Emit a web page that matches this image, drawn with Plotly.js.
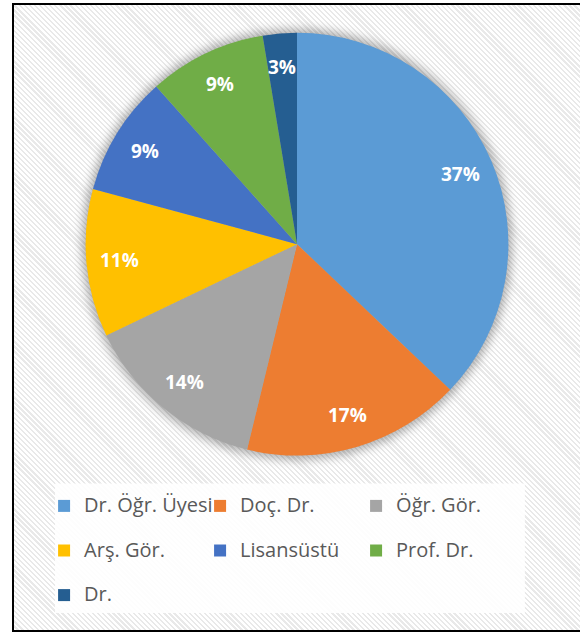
<!DOCTYPE html>
<html>
<head>
<meta charset="utf-8">
<script src="https://cdn.plot.ly/plotly-3.0.1.min.js"></script>
<style>
  html, body { margin: 0; padding: 0; background: #ffffff; width: 580px; height: 633px; overflow: hidden; }
  #frame {
    position: absolute; left: 12px; top: 3px; width: 620px; height: 625px;
    border: 2px solid #000;
    background: repeating-linear-gradient(45deg, #ffffff 0px, #ffffff 2px, #e9e9e9 2px, #e9e9e9 3.6px);
  }
  #chart { position: absolute; left: 0; top: 0; width: 580px; height: 633px; }
</style>
</head>
<body>
<div id="frame"></div>
<div id="chart"></div>
<script>
// Categories (clockwise from 12 o'clock) and their shares (percent)
const categories = ["Dr. Öğr. Üyesi", "Doç. Dr.", "Öğr. Gör.", "Arş. Gör.", "Lisansüstü", "Prof. Dr.", "Dr."];
const shares = [37.1, 16.7, 14.1, 11.3, 9.2, 9.0, 2.6];
const colors = ["#5B9BD5", "#ED7D31", "#A5A5A5", "#FFC000", "#4472C4", "#70AD47", "#255E91"];

const W = 580, H = 633;
const pieDomain = { x: [0.1466, 0.8776], y: [0.278, 0.948] };
const labelRadius = 0.84; // fraction of radius where Excel-style data labels sit

// legend labels: larger visible text plus an empty second line to give taller rows
const legendLabels = categories.map(c => '<span style="font-size:20px">' + c + '</span><br> ');

const trace = {
  type: 'pie',
  labels: legendLabels,
  values: shares,
  sort: false,
  direction: 'clockwise',
  rotation: 0,
  marker: { colors: colors, line: { width: 0 } },
  textposition: 'none',
  hoverinfo: 'none',
  domain: pieDomain
};

// data labels derived from the values (mid-angle of each slice)
const total = shares.reduce((a, b) => a + b, 0);
const cxP = (pieDomain.x[0] + pieDomain.x[1]) / 2 * W;
const cyP = (1 - (pieDomain.y[0] + pieDomain.y[1]) / 2) * H;
const R = Math.min((pieDomain.x[1] - pieDomain.x[0]) * W, (pieDomain.y[1] - pieDomain.y[0]) * H) / 2;
let cum = 0;
const annotations = shares.map(v => {
  const mid = (cum + v / 2) / total * 2 * Math.PI;
  cum += v;
  const px = cxP + labelRadius * R * Math.sin(mid);
  const py = cyP - labelRadius * R * Math.cos(mid);
  return {
    xref: 'paper', yref: 'paper', x: px / W, y: 1 - py / H,
    xanchor: 'center', yanchor: 'middle', showarrow: false,
    text: Math.round(v / total * 100) + '%',
    font: { family: 'Open Sans, sans-serif', size: 19, color: '#ffffff', weight: 700 }
  };
});

const layout = {
  width: W, height: H,
  margin: { l: 0, r: 0, t: 0, b: 0 },
  paper_bgcolor: 'rgba(0,0,0,0)',
  plot_bgcolor: 'rgba(0,0,0,0)',
  showlegend: true,
  legend: {
    orientation: 'h',
    x: 0.076, xanchor: 'left',
    y: 0.225, yanchor: 'top',
    bgcolor: 'rgba(0,0,0,0)',
    font: { family: 'Open Sans, sans-serif', size: 16, color: '#595959' },
    valign: 'top',
    entrywidth: 111,
    entrywidthmode: 'pixels',
    traceorder: 'normal'
  },
  annotations: annotations,
  shapes: [
    { type: 'circle', xref: 'paper', yref: 'paper', layer: 'below',
      x0: 0.1414, x1: 0.8828, y0: 0.2717, y1: 0.9542,
      fillcolor: 'rgba(0,0,0,0.3)', line: { width: 0 } },
    { type: 'rect', xref: 'paper', yref: 'paper', layer: 'below',
      x0: 0.0948, x1: 0.905, y0: 0.0284, y1: 0.2338,
      fillcolor: 'rgba(255,255,255,0.88)', line: { width: 0 } }
  ]
};

Plotly.newPlot('chart', [trace], layout, { displayModeBar: false, staticPlot: true }).then(function () {
  const svg = document.querySelector('#chart svg.main-svg');
  const ns = 'http://www.w3.org/2000/svg';
  let defs = svg.querySelector('defs');
  if (!defs) { defs = document.createElementNS(ns, 'defs'); svg.insertBefore(defs, svg.firstChild); }
  const f = document.createElementNS(ns, 'filter');
  f.setAttribute('id', 'pieShadow');
  f.setAttribute('x', '-20%'); f.setAttribute('y', '-20%');
  f.setAttribute('width', '140%'); f.setAttribute('height', '140%');
  const b = document.createElementNS(ns, 'feGaussianBlur');
  b.setAttribute('stdDeviation', '5');
  f.appendChild(b);
  defs.appendChild(f);
  const shapePaths = document.querySelectorAll('#chart .layer-below .shapelayer path');
  if (shapePaths.length) shapePaths[0].setAttribute('filter', 'url(#pieShadow)');
});
</script>
</body>
</html>
